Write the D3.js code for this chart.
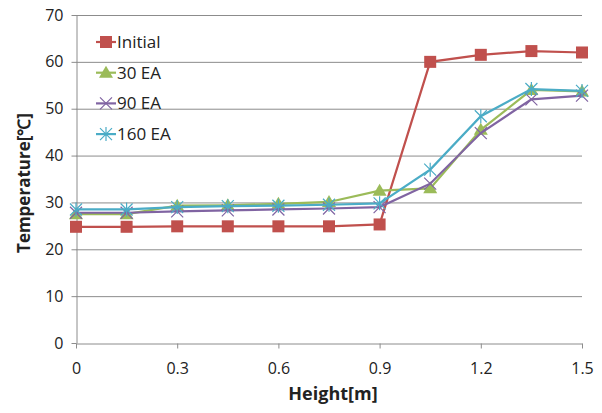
<!DOCTYPE html>
<meta charset="utf-8">
<style>
body { margin: 0; background: #fff; }
text { font-family: "Open Sans", "Liberation Sans", sans-serif; fill: #222; }
.grid line { stroke: #8c8c8c; stroke-width: 1; }
.axis path, .axis line { stroke: #8c8c8c; }
</style>
<svg width="602" height="413"></svg>
<script src="https://d3js.org/d3.v7.min.js"></script>
<script>

var heights = [0, 0.15, 0.3, 0.45, 0.6, 0.75, 0.9, 1.05, 1.2, 1.35, 1.5];
var initial = [24.8, 24.8, 24.9, 24.9, 24.9, 24.9, 25.3, 60, 61.5, 62.3, 62];
var ea30 = [27.5, 27.5, 29.3, 29.4, 29.7, 30.1, 32.5, 33, 45.5, 54, 53.7];
var ea90 = [27.8, 27.8, 28.1, 28.3, 28.5, 28.7, 29, 34, 44.8, 52, 52.8];
var ea160 = [28.5, 28.5, 29, 29.2, 29.3, 29.5, 29.8, 37, 48.4, 54.2, 53.8];
var seriesNames = ["Initial", "30 EA", "90 EA", "160 EA"];
var xTicks = [0, 0.3, 0.6, 0.9, 1.2, 1.5];
var yTicks = [0, 10, 20, 30, 40, 50, 60, 70];

var series = [
  {name: seriesNames[0], values: initial, color: "#c0504d", shape: "square"},
  {name: seriesNames[1], values: ea30, color: "#9bbb59", shape: "triangle"},
  {name: seriesNames[2], values: ea90, color: "#8064a2", shape: "x"},
  {name: seriesNames[3], values: ea160, color: "#4bacc6", shape: "star"}
];

var svg = d3.select("svg");
var plotL = 76, plotR = 582, plotT = 15, plotB = 343;

var x = d3.scaleLinear().domain([0, 1.5]).range([plotL, plotR]);
var y = d3.scaleLinear().domain([0, 70]).range([plotB, plotT]);

// gridlines
svg.append("g").attr("class", "grid")
  .selectAll("line").data(yTicks.slice(1)).enter().append("line")
  .attr("x1", plotL).attr("x2", plotR)
  .attr("y1", d => y(d) + 0.5).attr("y2", d => y(d) + 0.5);

// axes
var yAxis = svg.append("g").attr("class", "axis")
  .attr("transform", "translate(" + (plotL + 0.5) + ",0)")
  .call(d3.axisLeft(y).tickValues(yTicks).tickSize(5).tickSizeOuter(0));
yAxis.selectAll("text").style("font-size", "16px").attr("x", -13);

var xAxis = svg.append("g").attr("class", "axis")
  .attr("transform", "translate(0," + (plotB + 0.5) + ")")
  .call(d3.axisBottom(x).tickValues(xTicks).tickSize(5).tickSizeOuter(0)
    .tickFormat(d => d === 0 ? "0" : d3.format(".1f")(d)));
xAxis.selectAll("text").style("font-size", "16px").attr("y", 19);
svg.selectAll(".axis text").attr("fill", "#222");

// titles
svg.append("text")
  .attr("x", (plotL + plotR) / 2 + 4).attr("y", 400)
  .attr("text-anchor", "middle")
  .style("font-size", "18px").style("font-weight", "bold")
  .text("Height[m]");
svg.append("text")
  .attr("transform", "translate(30," + ((plotT + plotB) / 2 + 4) + ") rotate(-90)")
  .attr("text-anchor", "middle")
  .style("font-size", "17px").style("font-weight", "bold")
  .text("Temperature[℃]");

function drawMarker(g, shape, color) {
  if (shape === "square") {
    g.append("rect").attr("x", -6).attr("y", -6).attr("width", 12).attr("height", 12)
      .attr("fill", color);
  } else if (shape === "triangle") {
    g.append("path").attr("d", "M0,-7L7,5L-7,5Z").attr("fill", color);
  } else if (shape === "x") {
    g.append("path").attr("d", "M-6,-6L6,6M-6,6L6,-6")
      .attr("stroke", color).attr("stroke-width", 1.2).attr("fill", "none");
  } else {
    g.append("path").attr("d", "M-6,-6L6,6M-6,6L6,-6M0,-7L0,7")
      .attr("stroke", color).attr("stroke-width", 1.2).attr("fill", "none");
  }
}

var line = d3.line().x((d, i) => x(heights[i])).y(d => y(d));

series.forEach(function(s) {
  var g = svg.append("g");
  g.append("path").datum(s.values)
    .attr("d", line).attr("fill", "none")
    .attr("stroke", s.color).attr("stroke-width", 2.2);
  s.values.forEach(function(v, i) {
    var m = g.append("g").attr("transform", "translate(" + x(heights[i]) + "," + y(v) + ")");
    drawMarker(m, s.shape, s.color);
  });
});

// legend
var legend = svg.append("g").attr("transform", "translate(96,42)");
series.forEach(function(s, i) {
  var row = legend.append("g").attr("transform", "translate(0," + (i * 30.7) + ")");
  row.append("line").attr("x1", 0).attr("x2", 20).attr("stroke", s.color).attr("stroke-width", 2.2);
  var m = row.append("g").attr("transform", "translate(10,0)");
  drawMarker(m, s.shape, s.color);
  row.append("text").attr("x", 21).attr("y", 6)
    .style("font-size", "17px").text(s.name);
});

</script>
